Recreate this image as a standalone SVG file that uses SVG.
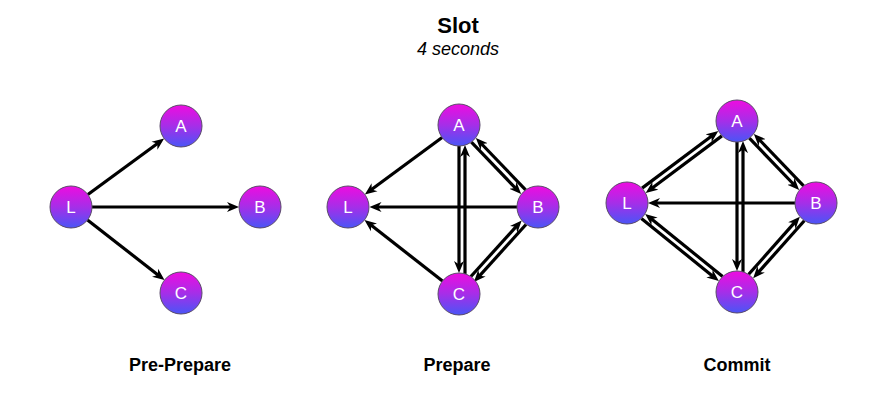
<svg xmlns="http://www.w3.org/2000/svg" width="893" height="417" viewBox="0 0 893 417">
<style>
.title{font-family:"Liberation Sans",Arial,sans-serif;font-weight:bold;font-size:22px;fill:#000;text-anchor:middle}
.sub{font-family:"Liberation Sans",Arial,sans-serif;font-style:italic;font-size:18px;fill:#000;text-anchor:middle}
.cap{font-family:"Liberation Sans",Arial,sans-serif;font-weight:bold;font-size:18px;fill:#000;text-anchor:middle}
.node circle{fill:url(#g);stroke:#5a4a6a;stroke-width:1}
.node text{font-family:"Liberation Sans",Arial,sans-serif;font-size:17px;fill:#fff;text-anchor:middle}
.edges line{stroke:#000;stroke-width:3.2;marker-end:url(#ah)}
</style>
<defs>
<linearGradient id="g" x1="0" y1="0" x2="0" y2="1">
<stop offset="0" stop-color="#ee0ce0"/>
<stop offset="0.5" stop-color="#a62ee8"/>
<stop offset="1" stop-color="#4a55f6"/>
</linearGradient>
<marker id="ah" viewBox="0 0 12 11" refX="5" refY="5.5" markerWidth="12" markerHeight="11" markerUnits="userSpaceOnUse" orient="auto">
<path d="M0,0.5 L12,5.5 L0,10.5 L3.5,5.5 Z" fill="#000"/>
</marker>
</defs>
<rect width="893" height="417" fill="#fff"/>
<text class="title" x="458" y="33">Slot</text>
<text class="sub" x="458" y="55">4 seconds</text>
<text class="cap" x="180" y="371">Pre-Prepare</text>
<text class="cap" x="457" y="371">Prepare</text>
<text class="cap" x="737" y="371">Commit</text>
<g class="edges" id="connectors">
<!-- Pre-Prepare -->
<line x1="87.9" y1="194.5" x2="158.5" y2="142.7"/>
<line x1="92" y1="207" x2="232" y2="207"/>
<line x1="87.5" y1="219.9" x2="159" y2="275.8"/>
<!-- Prepare -->
<line x1="442.1" y1="137.5" x2="370.5" y2="190.3"/>
<line x1="517" y1="207" x2="376.5" y2="207"/>
<line x1="442.5" y1="281" x2="370" y2="224.3"/>
<line x1="459" y1="146" x2="459" y2="266"/>
<line x1="465" y1="273.9" x2="465" y2="152.1"/>
<line x1="471.4" y1="142.2" x2="516.3" y2="189"/>
<line x1="525.6" y1="189.8" x2="480.7" y2="143"/>
<line x1="526" y1="224.5" x2="478.6" y2="276.9"/>
<line x1="470.9" y1="276.5" x2="517" y2="225.7"/>
<!-- Commit -->
<line x1="642.1" y1="188.1" x2="712.7" y2="135.3"/>
<line x1="721.9" y1="135.9" x2="651.3" y2="188.7"/>
<line x1="722.6" y1="276.5" x2="650.6" y2="218.3"/>
<line x1="641.4" y1="218.5" x2="713.4" y2="276.7"/>
<line x1="737" y1="142" x2="737" y2="264"/>
<line x1="743" y1="271.9" x2="743" y2="148.1"/>
<line x1="749.4" y1="138.2" x2="794.3" y2="185"/>
<line x1="803.6" y1="185.8" x2="758.7" y2="139"/>
<line x1="804.3" y1="220.7" x2="757.8" y2="273"/>
<line x1="748.7" y1="274.3" x2="795.2" y2="221.9"/>
<line x1="795" y1="203" x2="655" y2="203"/>
</g>
<g class="node" id="pp-L"><circle cx="71" cy="207" r="21"/><text x="71" y="213">L</text></g>
<g class="node" id="pp-A"><circle cx="181" cy="126" r="21"/><text x="181" y="132">A</text></g>
<g class="node" id="pp-B"><circle cx="260" cy="207" r="21"/><text x="260" y="213">B</text></g>
<g class="node" id="pp-C"><circle cx="181" cy="293" r="21"/><text x="181" y="299">C</text></g>
<g class="node" id="p-L"><circle cx="348" cy="207" r="21"/><text x="348" y="213">L</text></g>
<g class="node" id="p-A"><circle cx="459" cy="125" r="21"/><text x="459" y="131">A</text></g>
<g class="node" id="p-B"><circle cx="538" cy="207" r="21"/><text x="538" y="213">B</text></g>
<g class="node" id="p-C"><circle cx="459" cy="294" r="21"/><text x="459" y="300">C</text></g>
<g class="node" id="c-L"><circle cx="627" cy="203" r="21"/><text x="627" y="209">L</text></g>
<g class="node" id="c-A"><circle cx="737" cy="121" r="21"/><text x="737" y="127">A</text></g>
<g class="node" id="c-B"><circle cx="816" cy="203" r="21"/><text x="816" y="209">B</text></g>
<g class="node" id="c-C"><circle cx="737" cy="292" r="21"/><text x="737" y="298">C</text></g>
</svg>
